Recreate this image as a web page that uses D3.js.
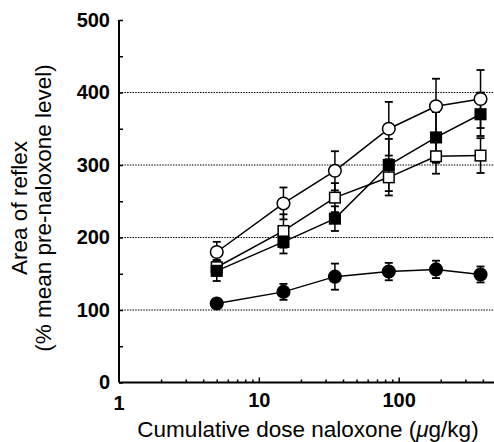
<!DOCTYPE html>
<html><head><meta charset="utf-8">
<script src="https://cdn.jsdelivr.net/npm/d3@7"></script>
<style>body{margin:0;background:#fff}svg{display:block}</style>
</head><body><svg id="c" width="494" height="442"></svg>
<script>
const doses = [5, 15, 35, 85, 185, 385];
const openCircle = [180, 247, 292, 350, 381, 391];
const openCircleErr = [14, 22, 27, 37, 38, 40];
const filledSquare = [154, 194, 226, 300, 338, 370];
const filledSquareErr = [14, 16, 17, 36, 35, 30];
const openSquare = [159, 209, 255, 283, 312, 313];
const openSquareErr = [10, 23, 20, 25, 24, 24];
const filledCircle = [109, 125, 146, 153, 156, 149];
const filledCircleErr = [4, 11, 18, 12, 12, 11];
const yTicks = [0, 100, 200, 300, 400, 500];
const xTickLabels = [1, 10, 100];
const gridValues = [100, 200, 300, 400];

const svg = d3.select("#c");
const W = 494, H = 442;
const x = d3.scaleLog().domain([1, 1000]).range([119, 538.5]);
const y = d3.scaleLinear().domain([0, 500]).range([382.5, 20]);
const font = "'Liberation Sans', Arial, Helvetica, sans-serif";

// gridlines
svg.append("g").selectAll("line").data(gridValues).join("line")
  .attr("x1", x(1)).attr("x2", W)
  .attr("y1", d => y(d)).attr("y2", d => y(d))
  .attr("stroke", "#000").attr("stroke-width", 1).attr("stroke-dasharray", "1.5,1.2");

// y axis
const yAxis = d3.axisLeft(y).tickValues(d3.range(0, 501, 50)).tickSize(-4).tickSizeOuter(0).tickPadding(9)
  .tickFormat(d => yTicks.includes(d) ? d : "");
const gy = svg.append("g").attr("transform", `translate(${x(1)},0)`).call(yAxis);
gy.select(".domain").attr("stroke-width", 2).attr("d", `M0,${y(0)}V${y(500)}`);
gy.selectAll(".tick line").attr("stroke-width", 1.5);
gy.selectAll("text").attr("font-family", font).attr("font-size", 20).attr("font-weight", "bold").attr("fill", "#000");

// x axis
const minor = [];
[1, 10, 100].forEach(b => { for (let k = 1; k < 10; k++) minor.push(b * k); });
const xAxis = d3.axisBottom(x).tickValues(minor.filter(v => v > 1)).tickSize(-3).tickSizeOuter(0).tickPadding(10)
  .tickFormat(d => xTickLabels.includes(d) ? d : "");
const gx = svg.append("g").attr("transform", `translate(0,${y(0)})`).call(xAxis);
gx.select(".domain").attr("stroke-width", 2).attr("d", `M${x(1)},0H${W}`);
gx.selectAll(".tick line").attr("stroke-width", 1.5).attr("y2", d => xTickLabels.includes(d) ? -5 : -3);
gx.selectAll("text").attr("font-family", font).attr("font-size", 20).attr("font-weight", "bold").attr("fill", "#000");
gx.append("text").attr("x", x(1)).attr("y", 13).attr("dy", "0.71em").attr("text-anchor", "middle")
  .attr("font-family", font).attr("font-size", 20).attr("font-weight", "bold").attr("fill", "#000").text(xTickLabels[0]);

// axis titles
const yl = svg.append("text").attr("transform", `translate(0,208) rotate(-90)`)
  .attr("text-anchor", "middle").attr("font-family", font).attr("font-size", 22.5).attr("fill", "#000");
yl.append("tspan").attr("x", 0).attr("y", 27).text("Area of reflex");
yl.append("tspan").attr("x", 0).attr("y", 51).text("(% mean pre-naloxone level)");

const xl = svg.append("text").attr("x", 308).attr("y", 437).attr("text-anchor", "middle")
  .attr("font-family", font).attr("font-size", 22.5).attr("fill", "#000");
xl.append("tspan").text("Cumulative dose naloxone (");
xl.append("tspan").attr("font-style", "italic").text("μ");
xl.append("tspan").text("g/kg)");

const series = [
  { v: openCircle, e: openCircleErr, shape: "circle", fill: "#fff" },
  { v: openSquare, e: openSquareErr, shape: "square", fill: "#fff" },
  { v: filledSquare, e: filledSquareErr, shape: "square", fill: "#000" },
  { v: filledCircle, e: filledCircleErr, shape: "circle", fill: "#000" }
];
const line = d3.line().x(d => x(d[0])).y(d => y(d[1]));

series.forEach(s => {
  const pts = doses.map((d, i) => [d, s.v[i], s.e[i]]);
  const g = svg.append("g");
  g.append("path").attr("d", line(pts)).attr("fill", "none").attr("stroke", "#000").attr("stroke-width", 1.5);
  const eb = g.selectAll("g.eb").data(pts).join("g");
  eb.append("line").attr("x1", d => x(d[0])).attr("x2", d => x(d[0]))
    .attr("y1", d => y(d[1] - d[2])).attr("y2", d => y(d[1] + d[2])).attr("stroke", "#000").attr("stroke-width", 1.5);
  [-1, 1].forEach(sg => {
    eb.append("line").attr("x1", d => x(d[0]) - 4).attr("x2", d => x(d[0]) + 4)
      .attr("y1", d => y(d[1] + sg * d[2])).attr("y2", d => y(d[1] + sg * d[2])).attr("stroke", "#000").attr("stroke-width", 1.8);
  });
});
series.forEach(s => {
  const pts = doses.map((d, i) => [d, s.v[i]]);
  const g = svg.append("g");
  if (s.shape === "circle") {
    g.selectAll("circle").data(pts).join("circle").attr("cx", d => x(d[0])).attr("cy", d => y(d[1]))
      .attr("r", 6.3).attr("fill", s.fill).attr("stroke", "#000").attr("stroke-width", 1.5);
  } else {
    g.selectAll("rect").data(pts).join("rect").attr("x", d => x(d[0]) - 5.3).attr("y", d => y(d[1]) - 5.3)
      .attr("width", 10.6).attr("height", 10.6).attr("fill", s.fill).attr("stroke", "#000").attr("stroke-width", 1.5);
  }
});
</script></body></html>
